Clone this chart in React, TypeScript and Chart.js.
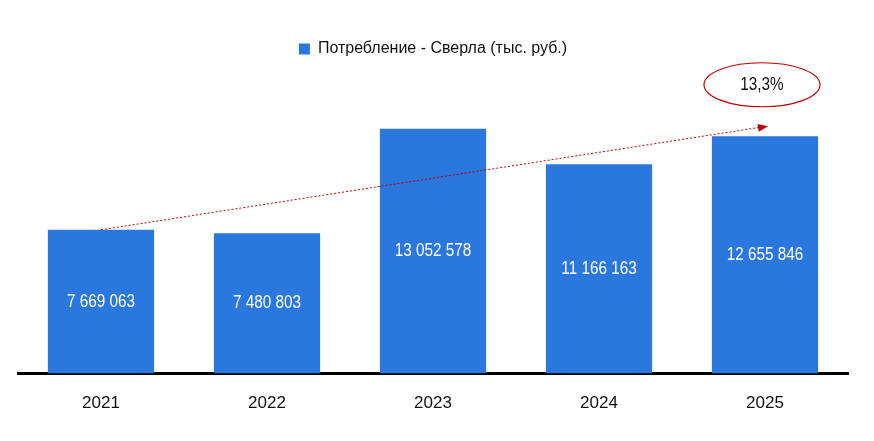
import React, { useEffect, useRef } from "react";
import { Chart, registerables } from "chart.js";
Chart.register(...registerables);

const categories = ["2021", "2022", "2023", "2024", "2025"];
const values = [7669063, 7480803, 13052578, 11166163, 12655846];
const seriesLabel = "Потребление - Сверла (тыс. руб.)";
const growthLabel = "13,3%";
const FONT = "'Liberation Sans Narrow', 'Arial Narrow', sans-serif";
const BLUE = "#2a77dd";

const fmt = (v: number) => String(v).replace(/\B(?=(\d{3})+(?!\d))/g, " ");

const narrowText = (ctx: CanvasRenderingContext2D, t: string, x: number, y: number) => {
  ctx.save();
  ctx.translate(x, y);
  ctx.scale(0.85, 1);
  ctx.fillText(t, 0, 0);
  ctx.restore();
};

const overlay = {
  id: "overlay",
  afterDatasetsDraw(chart: any) {
    const ctx = chart.ctx;
    const meta = chart.getDatasetMeta(0);
    const ys = chart.scales.y;
    ctx.save();
    ctx.fillStyle = "#fff";
    ctx.font = `18px ${FONT}`;
    ctx.textAlign = "center";
    ctx.textBaseline = "middle";
    meta.data.forEach((bar: any, i: number) => {
      const mid = (bar.y + bar.base) / 2;
      narrowText(ctx, fmt(values[i]), bar.x, mid);
    });
    const first = meta.data[0];
    const last = meta.data[meta.data.length - 1];
    const x1 = first.x, y1 = first.y;
    const x2 = last.x + 3, y2 = ys.getPixelForValue(values[4] * 1.042);
    ctx.strokeStyle = "#c00000";
    ctx.lineWidth = 1;
    ctx.setLineDash([2, 2]);
    ctx.beginPath();
    ctx.moveTo(x1, y1);
    ctx.lineTo(x2 - 8, y2 + 1);
    ctx.stroke();
    ctx.setLineDash([]);
    const ang = Math.atan2(y2 - y1, x2 - x1);
    ctx.fillStyle = "#c00000";
    ctx.beginPath();
    ctx.moveTo(x2, y2);
    ctx.lineTo(x2 - 10 * Math.cos(ang) + 4 * Math.sin(ang), y2 - 10 * Math.sin(ang) - 4 * Math.cos(ang));
    ctx.lineTo(x2 - 10 * Math.cos(ang) - 4 * Math.sin(ang), y2 - 10 * Math.sin(ang) + 4 * Math.cos(ang));
    ctx.closePath();
    ctx.fill();
    const ex = last.x - 3, ey = ys.getPixelForValue(values[4] * 1.217);
    ctx.strokeStyle = "#c00000";
    ctx.lineWidth = 1.2;
    ctx.beginPath();
    ctx.ellipse(ex, ey, 58, 22, 0, 0, Math.PI * 2);
    ctx.stroke();
    ctx.fillStyle = "#111";
    ctx.font = `18px ${FONT}`;
    narrowText(ctx, growthLabel, ex, ey);
    ctx.restore();
  },
};

export default function App() {
  const ref = useRef<HTMLCanvasElement>(null);
  useEffect(() => {
    const chart = new Chart(ref.current!, {
      type: "bar",
      data: {
        labels: categories,
        datasets: [{ label: seriesLabel, data: values, backgroundColor: BLUE, categoryPercentage: 0.64, barPercentage: 1 }],
      },
      options: {
        animation: false,
        responsive: false,
        layout: { padding: { left: 18, right: 26, top: 33, bottom: 15 } },
        plugins: {
          tooltip: { enabled: false },
          legend: {
            position: "top",
            labels: { boxWidth: 11, boxHeight: 11, color: "#111", font: { family: FONT, size: 16 }, padding: 8 },
          },
        },
        scales: {
          x: {
            grid: { display: false },
            border: { color: "#000", width: 3 },
            ticks: { color: "#111", font: { family: FONT, size: 17 }, padding: 12 },
          },
          y: { display: false, min: 0, max: 16350000 },
        },
      },
      plugins: [overlay],
    });
    return () => chart.destroy();
  }, []);
  return (
    <div style={{ position: "fixed", left: 0, top: 0, width: 874, height: 441, background: "#fff" }}>
      <canvas ref={ref} width={874} height={441} />
    </div>
  );
}
